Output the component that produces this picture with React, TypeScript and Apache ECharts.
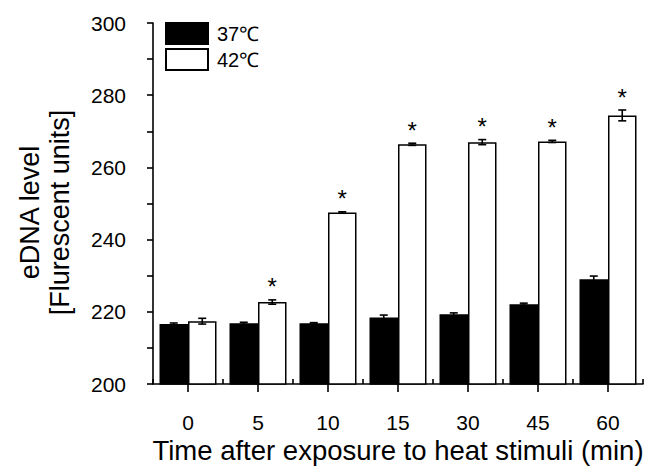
import React, { useEffect, useRef } from "react";
import * as echarts from "echarts";

const categories = ["0", "5", "10", "15", "30", "45", "60"];
const seriesNames = ["37℃", "42℃"];
const values37 = [216.6, 216.8, 216.8, 218.4, 219.3, 222.1, 229.0];
const errors37 = [0.3, 0.3, 0.2, 0.7, 0.4, 0.3, 0.9];
const values42 = [217.4, 222.7, 247.5, 266.4, 267.0, 267.2, 274.4];
const errors42 = [0.8, 0.6, 0.2, 0.3, 0.7, 0.3, 1.5];
const significant42 = [0, 1, 1, 1, 1, 1, 1];
const yMin = 200;
const yMax = 300;
const yInterval = 20;
const xTitle = "Time after exposure to heat stimuli (min)";
const yTitle = "eDNA level\n[Flurescent units]";

const FONT = "'Liberation Sans', Arial, Helvetica, sans-serif";
const BAR_W = 28.5;

function makeErrorRenderer(offset: number) {
  return (params: any, api: any) => {
    const idx = api.value(0);
    const mean = api.value(1);
    const err = api.value(2);
    const sig = api.value(3);
    const top = api.coord([idx, mean + err]);
    const bot = api.coord([idx, mean - err]);
    const x = top[0] + offset;
    const cap = 4;
    const style = { stroke: "#000", lineWidth: 1.6 };
    const children: any[] = [
      { type: "line", shape: { x1: x, y1: top[1], x2: x, y2: bot[1] }, style },
      { type: "line", shape: { x1: x - cap, y1: top[1], x2: x + cap, y2: top[1] }, style },
      { type: "line", shape: { x1: x - cap, y1: bot[1], x2: x + cap, y2: bot[1] }, style },
    ];
    if (sig) {
      children.push({
        type: "text",
        x,
        y: top[1] - 1,
        style: {
          text: "*",
          fontSize: 24,
          fontFamily: FONT,
          fill: "#000",
          align: "center",
          verticalAlign: "bottom",
        },
      });
    }
    return { type: "group", children };
  };
}

export default function App() {
  const ref = useRef<HTMLDivElement>(null);
  useEffect(() => {
    if (!ref.current) return;
    const chart = echarts.init(ref.current, undefined, { renderer: "svg" });
    const axisLine = { show: true, lineStyle: { color: "#000", width: 1.6 } };
    chart.setOption({
      animation: false,
      backgroundColor: "#fff",
      textStyle: { fontFamily: FONT },
      grid: { left: 153, right: 6, top: 23, bottom: 87, containLabel: false },
      legend: {
        orient: "vertical",
        left: 165,
        top: 22,
        padding: 0,
        itemWidth: 42,
        itemHeight: 21,
        itemGap: 3,
        icon: "rect",
        data: seriesNames,
        textStyle: { fontSize: 20, color: "#000", fontFamily: FONT, padding: [0, 0, 0, 4] },
      },
      xAxis: [
        {
          type: "category",
          data: categories,
          position: "bottom",
          axisLine,
          axisTick: { show: true, inside: true, length: 5, lineStyle: { color: "#000", width: 1.6 } },
          axisLabel: { show: false },
          name: xTitle,
          nameLocation: "middle",
          nameGap: 52,
          nameTextStyle: { fontSize: 27.5, color: "#000", fontFamily: FONT },
        },
        {
          type: "category",
          data: categories,
          position: "bottom",
          axisLine: { show: false },
          axisTick: { show: true, alignWithLabel: true, length: 8, lineStyle: { color: "#000", width: 1.6 } },
          axisLabel: { show: true, fontSize: 21, color: "#000", margin: 28, fontFamily: FONT },
        },
      ],
      yAxis: {
        type: "value",
        min: yMin,
        max: yMax,
        interval: yInterval,
        axisLine,
        axisTick: { show: true, length: 6, lineStyle: { color: "#000", width: 1.6 } },
        minorTick: { show: true, splitNumber: 2, length: 6, lineStyle: { color: "#000", width: 1.6 } },
        splitLine: { show: false },
        axisLabel: { fontSize: 21, color: "#000", margin: 27, fontFamily: FONT },
        name: yTitle,
        nameLocation: "middle",
        nameRotate: 90,
        nameGap: 78,
        nameTextStyle: { fontSize: 27, color: "#000", fontFamily: FONT, lineHeight: 30, padding: [0, 18, 0, 0] },
      },
      series: [
        {
          name: seriesNames[0],
          type: "bar",
          xAxisIndex: 0,
          data: values37,
          barWidth: BAR_W,
          barGap: "0%",
          itemStyle: { color: "#000", borderColor: "#000", borderWidth: 1.5 },
        },
        {
          name: seriesNames[1],
          type: "bar",
          xAxisIndex: 0,
          data: values42,
          barWidth: BAR_W,
          barGap: "0%",
          itemStyle: { color: "#fff", borderColor: "#000", borderWidth: 1.5 },
        },
        {
          type: "custom",
          xAxisIndex: 0,
          renderItem: makeErrorRenderer(-BAR_W / 2),
          encode: { x: 0, y: 1 },
          data: values37.map((v, i) => [i, v, errors37[i], 0]),
          z: 5,
        },
        {
          type: "custom",
          xAxisIndex: 0,
          renderItem: makeErrorRenderer(BAR_W / 2),
          encode: { x: 0, y: 1 },
          data: values42.map((v, i) => [i, v, errors42[i], significant42[i]]),
          z: 5,
        },
      ],
    });
    return () => chart.dispose();
  }, []);
  return <div ref={ref} style={{ width: 649, height: 471, position: "absolute", left: 0, top: 0 }} />;
}
